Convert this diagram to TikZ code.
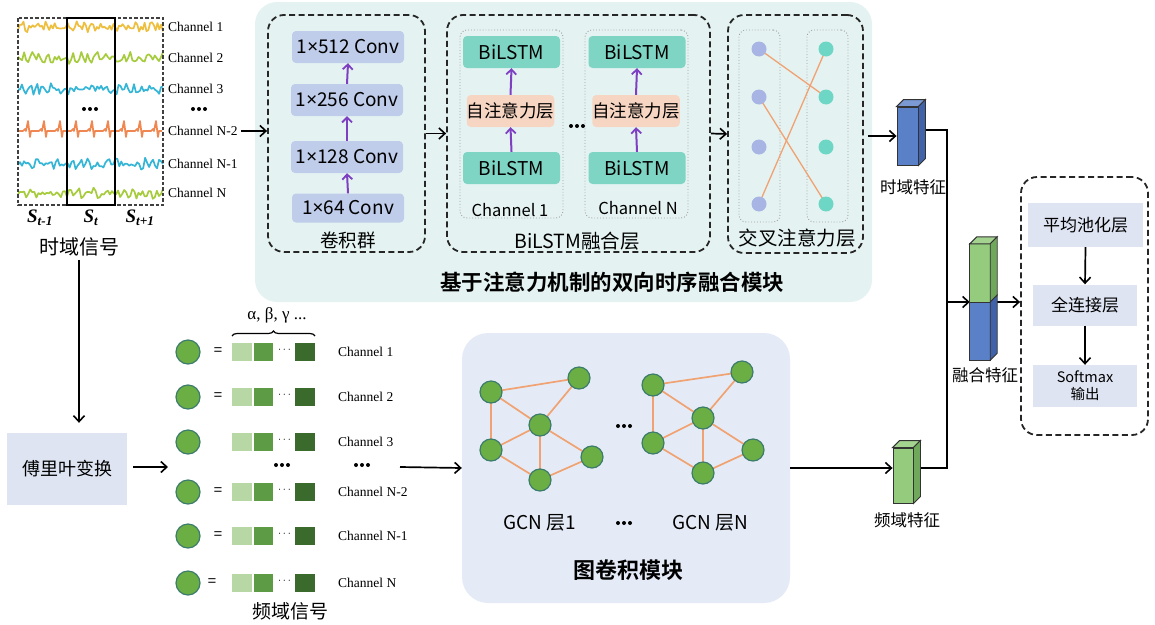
\documentclass[tikz,border=0pt]{standalone}
\usepackage{fontspec}
\setmainfont{Noto Sans CJK SC}[BoldFont={Noto Sans CJK SC Bold}]
\newfontfamily\serif{Liberation Serif}
\newfontfamily\lat{Noto Sans}
\usetikzlibrary{arrows.meta,decorations.pathreplacing,calc}
\definecolor{topbg}{HTML}{E4F3F2}
\definecolor{gcnbg}{HTML}{E5EBF6}
\definecolor{convc}{HTML}{BFCCEA}
\definecolor{lstmc}{HTML}{7ED5C4}
\definecolor{attc}{HTML}{F6D6C2}
\definecolor{purparr}{HTML}{7E3FC2}
\definecolor{featc}{HTML}{DFE4F2}
\definecolor{gnodec}{HTML}{6BAE44}
\definecolor{gnoded}{HTML}{3C7C6C}
\definecolor{edgec}{HTML}{F0A272}
\definecolor{sq1}{HTML}{B7D8A4}
\definecolor{sq2}{HTML}{5E9B45}
\definecolor{sq3}{HTML}{3A6B2C}
\definecolor{cubeblue}{HTML}{5A80C8}
\definecolor{cubebluedark}{HTML}{3F62A8}
\definecolor{cubegreen}{HTML}{94CB7C}
\definecolor{cubegreendark}{HTML}{6FA85A}
\definecolor{lavdot}{HTML}{A8B5E4}
\definecolor{tealdot}{HTML}{6ED6C4}
\definecolor{wyellow}{HTML}{EEBE3E}
\definecolor{wgreen}{HTML}{A6CC3E}
\definecolor{wcyan}{HTML}{35B6D6}
\definecolor{worange}{HTML}{F08650}
\begin{document}
\begin{tikzpicture}[x=1pt,y=-1pt,
  dbox/.style={draw=black!85, line width=1.8pt, dash pattern=on 6pt off 3.5pt, rounded corners=16pt, inner sep=0pt},
  dotbox/.style={draw=gray!75, dotted, line width=0.9pt, rounded corners=7pt, inner sep=0pt},
  arr/.style={-{Straight Barb[length=6pt,width=11pt,line width=1.6pt]}, line width=1.7pt, black},
  parr/.style={-{Straight Barb[length=5pt,width=10pt,line width=1.8pt]}, line width=2pt, purparr},
  f18/.style={font=\fontsize{18.5}{20}\selectfont},
  convbox/.style={fill=convc, rounded corners=4pt, minimum width=112pt, minimum height=32pt, inner sep=0pt, font=\fontsize{19}{20}\selectfont},
  lstmbox/.style={fill=lstmc, rounded corners=4pt, minimum width=97pt, minimum height=32pt, inner sep=0pt, font=\fontsize{19}{20}\selectfont},
  attbox/.style={fill=attc, rounded corners=4pt, minimum width=86pt, minimum height=32pt, inner sep=0pt, font=\fontsize{17.5}{19}\selectfont},
  featbox/.style={fill=featc, minimum width=104pt, minimum height=41pt, inner sep=0pt, font=\fontsize{17}{19}\selectfont},
  chlab/.style={anchor=west, inner sep=0pt, font=\serif\fontsize{13.5}{15}\selectfont},
  gnode/.style={circle, fill=gnodec, draw=gnoded, line width=1.2pt, minimum size=22pt, inner sep=0pt},
  gedge/.style={edgec, line width=1.7pt},
  cube/.style={draw=black!80, line width=0.9pt},
  sig/.style={line width=1.7pt, line join=round},
  sqr/.style={minimum width=20pt, minimum height=18pt, inner sep=0pt},
  tridots/.pic={\foreach \d in {-6,0,6}{\fill (\d,0) circle (2);}}
]
\useasboundingbox (0,0) rectangle (1155,624);
\pgfmathsetseed{4217}

% ---------- top background ----------
\fill[topbg, rounded corners=22pt] (255,2) rectangle (872,302);

% ---------- time signals ----------
\draw[sig, wyellow] plot[domain=0:145,samples=80] ({\x+18},{27+2*sin(48*\x)+4.2*rand});
\draw[sig, wgreen] plot[domain=0:145,samples=72] ({\x+18},{58+2.2*sin(44*\x+20)+4.2*rand});
\draw[sig, wcyan] plot[domain=0:145,samples=76] ({\x+18},{89+2*sin(52*\x+10)+4*rand});
\draw[sig, worange] (18,131) foreach \k in {1,...,9}{ -- ++(5,0) -- ++(2,-2) -- ++(1,2) -- ++(2,-10) -- ++(2,16) -- ++(1,-6) -- ++(3,0)};
\draw[sig, wcyan] plot[domain=0:145,samples=74] ({\x+18},{164+2*sin(50*\x+40)+4.2*rand});
\draw[sig, wgreen] plot[domain=0:145,samples=72] ({\x+18},{193+2.1*sin(46*\x)+4.2*rand});
\draw[black!75, line width=1.2pt, dash pattern=on 3.5pt off 2pt] (18,18) rectangle (163,205);
\draw[black, line width=1.3pt] (67,18) rectangle (115,205);
\pic at (90,109) {tridots};
\pic at (199,109) {tridots};
\node[chlab] (ch1) at (168,27) {Channel 1};
\node[chlab] (ch2) at (168,58) {Channel 2};
\node[chlab] (ch3) at (168,89) {Channel 3};
\node[chlab] (chN2) at (168,131) {Channel N-2};
\node[chlab] (chN1) at (168,164) {Channel N-1};
\node[chlab] (chN) at (168,193) {Channel N};
\node[font=\serif\bfseries\itshape\fontsize{19}{21}\selectfont] (s1) at (40,218) {S\textsubscript{t-1}};
\node[font=\serif\bfseries\itshape\fontsize{19}{21}\selectfont] (s2) at (91,218) {S\textsubscript{t}};
\node[font=\serif\bfseries\itshape\fontsize{19}{21}\selectfont] (s3) at (140,218) {S\textsubscript{t+1}};
\node[font=\fontsize{20}{22}\selectfont] (tdsig) at (79,247) {时域信号};

% ---------- conv group ----------
\node[dbox, minimum width=157pt, minimum height=237pt] (convg) at (346.5,133.5) {};
\node[convbox] (c512) at (348,47) {1{\lat ×}512 Conv};
\node[convbox] (c256) at (347,100) {1{\lat ×}256 Conv};
\node[convbox] (c128) at (347,157) {1{\lat ×}128 Conv};
\node[convbox, minimum height=29pt] (c64) at (348,208) {1{\lat ×}64 Conv};
\draw[parr] (c64.north) -- (c128.south);
\draw[parr] (c128.north) -- (c256.south);
\draw[parr] (c256.north) -- (c512.south);
\node[f18] (convlab) at (348,240) {卷积群};

% ---------- BiLSTM fusion ----------
\node[dbox, minimum width=263pt, minimum height=237pt] (bil) at (578.5,133.5) {};
\node[dotbox, minimum width=103pt, minimum height=188pt] (ch1box) at (511.5,124) {};
\node[dotbox, minimum width=103pt, minimum height=188pt] (chNbox) at (636.5,124) {};
\node[lstmbox] (l1t) at (511.5,52) {BiLSTM};
\node[attbox] (a1) at (510.5,111) {自注意力层};
\node[lstmbox] (l1b) at (511.5,168) {BiLSTM};
\node[lstmbox] (l2t) at (637,52) {BiLSTM};
\node[attbox] (a2) at (636,111) {自注意力层};
\node[lstmbox] (l2b) at (637,168) {BiLSTM};
\draw[parr] (l1b.north) -- (a1.south);
\draw[parr] (a1.north) -- (l1t.south);
\draw[parr] (l2b.north) -- (a2.south);
\draw[parr] (a2.north) -- (l2t.south);
\node[font=\fontsize{16.5}{18}\selectfont] (ch1lab) at (510,210) {Channel 1};
\node[font=\fontsize{16.5}{18}\selectfont] (chNlab) at (638,208) {Channel N};
\pic at (577,126) {tridots};
\node[font=\fontsize{19.5}{21}\selectfont] (billab) at (577,241) {BiLSTM融合层};

% ---------- cross attention ----------
\node[dbox, minimum width=135pt, minimum height=238pt] (cross) at (795.5,134) {};
\node[dotbox, minimum width=41pt, minimum height=192pt] (cl) at (759.5,126) {};
\node[dotbox, minimum width=41pt, minimum height=192pt] (cr) at (827.5,126) {};
\coordinate (L1) at (759,49); \coordinate (L2) at (759,97); \coordinate (L3) at (759,147); \coordinate (L4) at (759,204);
\coordinate (R1) at (826,49); \coordinate (R2) at (826,97); \coordinate (R3) at (826,147); \coordinate (R4) at (826,204);
\draw[edgec, line width=1.3pt] (L1) -- (R2);
\draw[edgec, line width=1.3pt] (L2) -- (R4);
\draw[edgec, line width=1.3pt] (L4) -- (R1);
\foreach \p in {L1,L2,L3,L4}{\node[circle, fill=lavdot, minimum size=15pt, inner sep=0pt] at (\p) {};}
\foreach \p in {R1,R2,R3,R4}{\node[circle, fill=tealdot, minimum size=15pt, inner sep=0pt] at (\p) {};}
\node[font=\fontsize{19.5}{21}\selectfont] (crosslab) at (797,238) {交叉注意力层};

\node[font=\bfseries\fontsize{21.5}{24}\selectfont] (toptitle) at (612,282) {基于注意力机制的双向时序融合模块};

% ---------- arrows top row ----------
\draw[arr] (chN2.east) ++(3,0) -- (chN2.east -| convg.west);
\draw[arr] (convg.east) -- (bil.west);
\draw[arr] (bil.east) -- (cross.west);

% ---------- feature cuboids (front faces) ----------
\node[cube, fill=cubeblue, minimum width=21pt, minimum height=58pt, inner sep=0pt] (tfeat) at (907.5,136) {};
\node[minimum width=20pt, minimum height=116pt, inner sep=0pt] (fuse) at (980,302) {};
\node[cube, fill=cubegreen, minimum width=20pt, minimum height=55pt, inner sep=0pt] (ffeat) at (903,475.5) {};

\coordinate (busT) at (947,130);
\coordinate (busB) at (947,468);
\coordinate (busM) at (947,302);

% ---------- right box ----------
\node[dbox, minimum width=127pt, minimum height=258pt] (rbox) at (1084.5,306) {};
\node[featbox, minimum width=115pt, minimum height=44pt] (pool) at (1085.5,225) {平均池化层};
\node[featbox] (fc) at (1085,305) {全连接层};
\node[featbox, minimum height=42pt, align=center, font=\fontsize{14.5}{17}\selectfont] (sm) at (1085,386) {Softmax\\输出};
\draw[arr] (pool.south) -- (fc.north);
\draw[arr] (fc.south) -- (sm.north);

% ---------- bottom left ----------
\node[fill=featc, minimum width=120pt, minimum height=72pt, inner sep=0pt, font=\fontsize{18}{20}\selectfont] (fourier) at (67,469) {傅里叶变换};
\draw[arr, shorten >=10pt] (tdsig.south) -- (tdsig.south |- fourier.north);
\coordinate (fsin) at (168,467);
\draw[arr] ($(fourier.east)+(6,-2)$) -- (fsin);

\foreach \y/\lab/\eq [count=\i] in {352/Channel 1/218, 397/Channel 2/218, 442/Channel 3/0, 492/Channel N-2/218, 536/Channel N-1/218, 583/Channel N/212}{
  \node[gnode, minimum size=24pt] (fc\i) at (188,\y) {};
  \ifnum\eq>0 \node[font=\fontsize{15}{16}\selectfont] (eq\i) at (\eq,\y) {=};\fi
  \node[sqr, fill=sq1] (sa\i) at (242,\y) {};
  \node[sqr, fill=sq2, minimum width=19pt] (sb\i) at (263.5,\y) {};
  \node[font=\fontsize{11}{12}\selectfont] (sd\i) at (284.5,\y-2) {$\cdots$};
  \node[sqr, fill=sq3] (sc\i) at (305,\y) {};
  \node[chlab] (fl\i) at (338,\y) {\lab};
}
\pic at (282,465) {tridots};
\pic at (362,465) {tridots};
\draw[line width=1.2pt, decorate, decoration={brace, amplitude=5pt}] (232,336) -- (315,336);
\node[font=\serif\fontsize{17}{19}\selectfont] (greek) at (277,315) {α, β, γ ...};
\node[font=\fontsize{19}{21}\selectfont] (fsig) at (290,611) {频域信号};

% ---------- GCN ----------
\node[fill=gcnbg, rounded corners=26pt, minimum width=328pt, minimum height=270pt, inner sep=0pt] (gcn) at (626,468) {};
\coordinate (fsout) at (400,467);
\draw[arr] (fsout) -- (gcn.west);
\coordinate (ga) at (491,392); \coordinate (gb) at (579,378); \coordinate (gc) at (540,425);
\coordinate (gd) at (491,450); \coordinate (ge) at (592,457); \coordinate (gf) at (540,480);
\coordinate (ha) at (653,385); \coordinate (hb) at (742,372); \coordinate (hc) at (703,418);
\coordinate (hd) at (653,443); \coordinate (he) at (753,450); \coordinate (hf) at (703,473);
\foreach \g in {g,h}{
  \draw[gedge] (\g a) -- (\g b);
  \draw[gedge] (\g a) -- (\g d);
  \draw[gedge] (\g a) -- (\g c);
  \draw[gedge] (\g b) -- (\g c);
  \draw[gedge] (\g c) -- (\g d);
  \draw[gedge] (\g c) -- (\g f);
  \draw[gedge] (\g c) -- (\g e);
  \draw[gedge] (\g d) -- (\g f);
  \draw[gedge] (\g f) -- (\g e);
  \foreach \n in {a,b,c,d,e,f}{\node[gnode] at (\g\n) {};}
}
\pic at (624,426) {tridots};
\node[font=\fontsize{19}{21}\selectfont] (gcn1) at (540,523) {GCN 层1};
\pic at (624,523) {tridots};
\node[font=\fontsize{19}{21}\selectfont] (gcnN) at (710,523) {GCN 层N};
\node[font=\bfseries\fontsize{22}{24}\selectfont] (gcnlab) at (628,570) {图卷积模块};

% ---------- connectors to features ----------
\draw[arr] (cross.east |- tfeat.west) ++(4,0) -- (tfeat.west);
\draw[line width=2pt] (tfeat.east |- busT) -- (busT) -- (busB) -- (ffeat.east |- busB);
\draw[arr] (busM) -- (fuse.west |- busM);
\draw[arr] (fuse.east) -- (fuse.east -| rbox.west);
\draw[arr] (gcn.east) -- (gcn.east -| ffeat.west);

% ---------- cuboid top / side faces ----------
\draw[cube, fill=cubeblue!80] (tfeat.north west) -- ++(7,-7) -- ($(tfeat.north east)+(7,-7)$) -- (tfeat.north east) -- cycle;
\draw[cube, fill=cubebluedark] (tfeat.north east) -- ++(7,-7) -- ($(tfeat.south east)+(7,-7)$) -- (tfeat.south east) -- cycle;
\draw[cube, fill=cubegreen] (fuse.north west) rectangle (fuse.east);
\draw[cube, fill=cubeblue] (fuse.west) rectangle (fuse.south east);
\draw[cube, fill=cubegreen!85] (fuse.north west) -- ++(7,-7) -- ($(fuse.north east)+(7,-7)$) -- (fuse.north east) -- cycle;
\draw[cube, fill=cubegreendark] (fuse.north east) -- ++(7,-7) -- ($(fuse.east)+(7,-7)$) -- (fuse.east) -- cycle;
\draw[cube, fill=cubebluedark] (fuse.east) -- ($(fuse.east)+(7,-7)$) -- ($(fuse.south east)+(7,-7)$) -- (fuse.south east) -- cycle;
\draw[cube, fill=cubegreen!85] (ffeat.north west) -- ++(7,-7) -- ($(ffeat.north east)+(7,-7)$) -- (ffeat.north east) -- cycle;
\draw[cube, fill=cubegreendark] (ffeat.north east) -- ++(7,-7) -- ($(ffeat.south east)+(7,-7)$) -- (ffeat.south east) -- cycle;

\node[font=\fontsize{16.5}{18}\selectfont] (tflab) at (913,187) {时域特征};
\node[font=\fontsize{16.5}{18}\selectfont] (fulab) at (985,375) {融合特征};
\node[font=\fontsize{16.5}{18}\selectfont] (fflab) at (907,520) {频域特征};
\end{tikzpicture}
\end{document}
